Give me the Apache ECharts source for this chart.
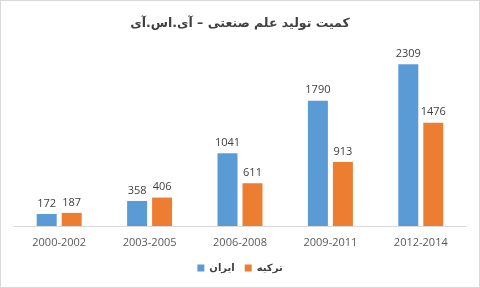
<!DOCTYPE html>
<html>
<head>
<meta charset="utf-8">
<script src="https://cdn.jsdelivr.net/npm/echarts@6/dist/echarts.min.js"></script>
<style>
  html, body { margin: 0; padding: 0; background: #fff; }
  #chart { width: 478px; height: 286px; border: 1px solid #d9d9d9; }
</style>
</head>
<body>
<div id="chart"></div>
<script>
const categories = ['2000-2002', '2003-2005', '2006-2008', '2009-2011', '2012-2014']
const iranValues = [172, 358, 1041, 1790, 2309]
const turkeyValues = [187, 406, 611, 913, 1476]
const seriesNames = ['ایران', 'ترکیه']
const titleText = 'کمیت تولید علم صنعتی – آی.اس.آی'

const chart = echarts.init(document.getElementById('chart'))

const labelStyle = {
  show: true,
  position: 'top',
  distance: 5,
  color: '#404040',
  fontSize: 11,
  fontFamily: 'Open Sans'
}

chart.setOption({
  animation: false,
  title: {
    text: titleText,
    left: 'center',
    top: 11,
    textStyle: {
      fontFamily: 'DejaVu Sans',
      fontSize: 12.5,
      fontWeight: 'bold',
      color: '#404040'
    }
  },
  legend: {
    bottom: 9,
    left: 'center',
    itemWidth: 7,
    itemHeight: 7,
    itemGap: 10,
    icon: 'rect',
    textStyle: {
      fontFamily: 'DejaVu Sans',
      fontSize: 10,
      fontWeight: 'bold',
      color: '#404040'
    },
    data: seriesNames
  },
  grid: {
    left: 13,
    right: 13,
    top: 50,
    bottom: 61
  },
  xAxis: {
    type: 'category',
    data: categories,
    axisLine: { lineStyle: { color: '#d9d9d9' } },
    axisTick: { show: false },
    axisLabel: {
      margin: 11,
      color: '#595959',
      fontSize: 11,
      fontFamily: 'Open Sans'
    }
  },
  yAxis: {
    type: 'value',
    min: 0,
    max: 2500,
    show: false,
    splitLine: { show: false }
  },
  series: [
    {
      name: seriesNames[0],
      type: 'bar',
      data: iranValues,
      barWidth: 20,
      barGap: '25%',
      itemStyle: { color: '#5b9bd5' },
      label: labelStyle
    },
    {
      name: seriesNames[1],
      type: 'bar',
      data: turkeyValues,
      barWidth: 20,
      itemStyle: { color: '#ed7d31' },
      label: labelStyle
    }
  ]
})
</script>
</body>
</html>
